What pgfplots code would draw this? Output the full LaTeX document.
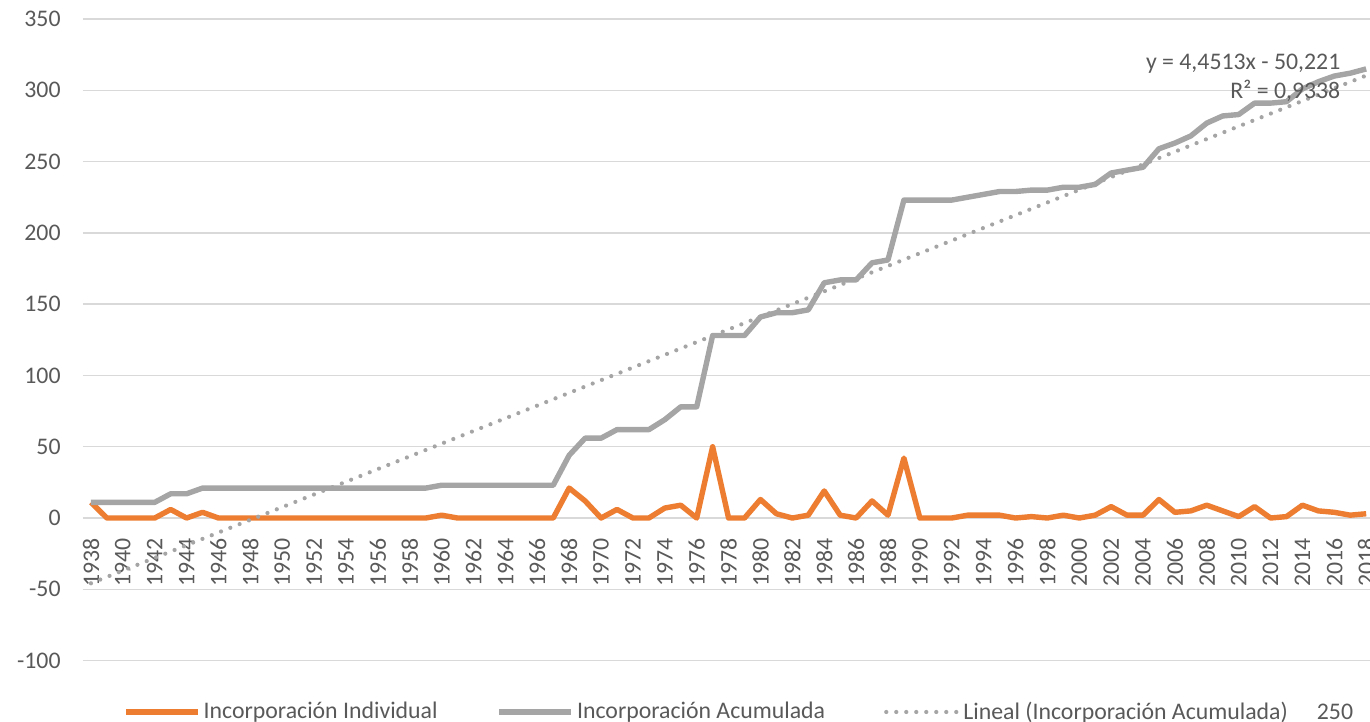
\documentclass[border=0pt]{standalone}
\usepackage{fontspec}
\setmainfont{Carlito}
\usepackage{pgfplots}
\pgfplotsset{compat=1.18}

\definecolor{serieA}{HTML}{ED7D31}
\definecolor{serieB}{HTML}{A5A5A5}
\definecolor{txt}{HTML}{595959}
\definecolor{gridc}{HTML}{D9D9D9}

\begin{document}
\begin{tikzpicture}[font=\fontsize{11.9}{14.5}\selectfont]
\begin{axis}[
    at={(0,0)}, anchor=south west,
    scale only axis,
    width=643.5pt, height=320.8pt,
    xmin=1937.5, xmax=2018.24,
    ymin=-100, ymax=350,
    clip mode=individual,
    axis line style={draw=none},
    major tick length=0pt,
    ymajorgrids=true, xmajorgrids=false,
    grid style={gridc, line width=0.75pt},
    xtick={1938,1940,...,2018},
    ytick={-100,-50,0,50,100,150,200,250,300,350},
    yticklabels={-100,-50,0,50,100,150,200,250,300,350},
    /pgf/number format/1000 sep={},
    /pgf/number format/assume math mode=true,
    xticklabel style={rotate=90, anchor=east, inner sep=0pt, text=txt},
    xticklabel shift={-61.5pt},
    yticklabel style={anchor=east, inner sep=0pt, xshift=-11pt, text=txt},
    legend columns=3,
    legend image code/.code={\draw[#1] (0pt,0pt) -- (36pt,0pt);},
    legend style={
        at={(0.031,-0.0801)}, anchor=west,
        draw=none, fill=none, inner sep=0pt,
        text=txt,
        nodes={inner sep=0pt},
        /tikz/every odd column/.append style={column sep=1.5pt},
        /tikz/every even column/.append style={column sep=29.5pt},
        cells={anchor=west},
    },
]
% Incorporacion Individual
\addplot[serieA, line width=2.7pt, line join=round] coordinates {
    (1938,11)(1939,0)(1940,0)(1941,0)(1942,0)(1943,6)(1944,0)(1945,4)
    (1946,0)(1947,0)(1948,0)(1949,0)(1950,0)(1951,0)(1952,0)(1953,0)
    (1954,0)(1955,0)(1956,0)(1957,0)(1958,0)(1959,0)(1960,2)(1961,0)
    (1962,0)(1963,0)(1964,0)(1965,0)(1966,0)(1967,0)(1968,21)(1969,12)
    (1970,0)(1971,6)(1972,0)(1973,0)(1974,7)(1975,9)(1976,0)(1977,50)
    (1978,0)(1979,0)(1980,13)(1981,3)(1982,0)(1983,2)(1984,19)(1985,2)
    (1986,0)(1987,12)(1988,2)(1989,42)(1990,0)(1991,0)(1992,0)(1993,2)
    (1994,2)(1995,2)(1996,0)(1997,1)(1998,0)(1999,2)(2000,0)(2001,2)
    (2002,8)(2003,2)(2004,2)(2005,13)(2006,4)(2007,5)(2008,9)(2009,5)
    (2010,1)(2011,8)(2012,0)(2013,1)(2014,9)(2015,5)(2016,4)(2017,2)
    (2018,3)
};
\addlegendentry{Incorporación Individual}
% Incorporacion Acumulada
\addplot[serieB, line width=2.7pt, line join=round] coordinates {
    (1938,11)(1939,11)(1940,11)(1941,11)(1942,11)(1943,17)(1944,17)(1945,21)
    (1946,21)(1947,21)(1948,21)(1949,21)(1950,21)(1951,21)(1952,21)(1953,21)
    (1954,21)(1955,21)(1956,21)(1957,21)(1958,21)(1959,21)(1960,23)(1961,23)
    (1962,23)(1963,23)(1964,23)(1965,23)(1966,23)(1967,23)(1968,44)(1969,56)
    (1970,56)(1971,62)(1972,62)(1973,62)(1974,69)(1975,78)(1976,78)(1977,128)
    (1978,128)(1979,128)(1980,141)(1981,144)(1982,144)(1983,146)(1984,165)(1985,167)
    (1986,167)(1987,179)(1988,181)(1989,223)(1990,223)(1991,223)(1992,223)(1993,225)
    (1994,227)(1995,229)(1996,229)(1997,230)(1998,230)(1999,232)(2000,232)(2001,234)
    (2002,242)(2003,244)(2004,246)(2005,259)(2006,263)(2007,268)(2008,277)(2009,282)
    (2010,283)(2011,291)(2012,291)(2013,292)(2014,301)(2015,306)(2016,310)(2017,312)
    (2018,315)
};
\addlegendentry{Incorporación Acumulada}
% Lineal (trend line, y = 4.4513x - 50.221)
\addplot[serieB, line width=2.1pt, line cap=round, dash pattern=on 0pt off 5pt] coordinates {
    (1938,-45.77)(2018,310.33)
};
\addlegendentry{Lineal (Incorporación Acumulada)}

\node[anchor=east, align=right, text=txt, inner sep=0pt] at (axis cs:2016.4,309)
    {y = 4,4513x - 50,221\\R² = 0,9338};
\node[text=txt, inner sep=0pt] at (rel axis cs:0.9728,-0.0801) {250};
\end{axis}
\pgfresetboundingbox
\useasboundingbox (-41.5pt,-30.7pt) rectangle (643.5pt,330.3pt);
\end{tikzpicture}
\end{document}
